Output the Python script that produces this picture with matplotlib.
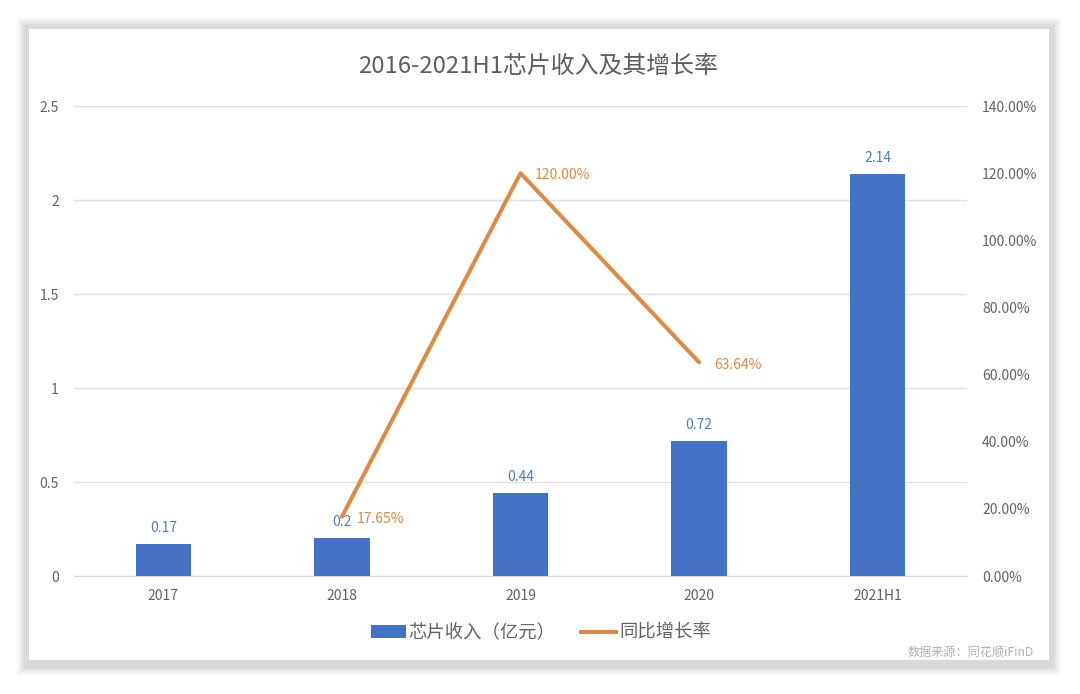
import matplotlib
matplotlib.use("Agg")
import matplotlib.pyplot as plt
from matplotlib.patches import Rectangle
import numpy as np

plt.rcParams['font.family'] = ['Noto Sans CJK SC', 'DejaVu Sans']

title = "2016-2021H1芯片收入及其增长率"
categories = ["2017", "2018", "2019", "2020", "2021H1"]
revenue = [0.17, 0.2, 0.44, 0.72, 2.14]
revenue_labels = ["0.17", "0.2", "0.44", "0.72", "2.14"]
growth_cats = [1, 2, 3]
growth = [17.65, 120.00, 63.64]
growth_labels = ["17.65%", "120.00%", "63.64%"]
left_ticks = [0, 0.5, 1, 1.5, 2, 2.5]
left_ticklabels = ["0", "0.5", "1", "1.5", "2", "2.5"]
right_ticks = [0, 20, 40, 60, 80, 100, 120, 140]
right_ticklabels = ["0.00%", "20.00%", "40.00%", "60.00%", "80.00%", "100.00%", "120.00%", "140.00%"]
legend_bar = "芯片收入（亿元）"
legend_line = "同比增长率"
source = "数据来源：同花顺iFinD"

W, H = 1080, 694
BLUE = "#4472C4"
ORANGE = "#DF8A42"
GREY = "#626262"
fig = plt.figure(figsize=(W / 100, H / 100), dpi=100, facecolor="white")

# page layer in pixel coordinates, top-left origin
bg = fig.add_axes([0, 0, 1, 1], zorder=0)
bg.set_xlim(0, W); bg.set_ylim(H, 0); bg.axis("off")
# soft shadow around the white panel: opaque rings, pale outside, grey near the panel
PADS = 15
for pad in range(PADS, 0, -1):
    t = min(1.0, ((PADS - pad) / 9) ** 1.3)
    lev = 1 - (1 - 0xD9 / 255) * t
    bg.add_patch(Rectangle((29 - pad + 1, 29 - pad + 2), 1020 + 2 * pad - 2, 631 + 2 * pad,
                           fc=(lev, lev, lev), ec="none"))
bg.add_patch(Rectangle((29, 29), 1020, 631, fc="white", ec="none"))

bg.text(538.5, 66, title, ha="center", va="center", fontsize=17.2, color="#5E5E5E")
bg.text(1034, 652, source, ha="right", va="center", fontsize=8.7, color="#B0B0B0")

# plot area
ax = fig.add_axes([74 / W, 1 - 576 / H, 893 / W, 470 / H], zorder=2)
ax.patch.set_alpha(0)
x = np.arange(len(categories))
ax.bar(x, revenue, width=0.31, color=BLUE, zorder=3)
ax.set_xlim(-0.5, 4.5)
ax.set_ylim(0, 2.5)
ax.set_yticks(left_ticks, left_ticklabels)
ax.set_xticks(x, categories)
ax.grid(axis="y", color="#E0E0E0", lw=1, zorder=0)
ax.set_axisbelow(True)
for s in ("top", "left", "right"):
    ax.spines[s].set_visible(False)
ax.spines["bottom"].set_color("#D9D9D9")
ax.tick_params(length=0, labelcolor=GREY, labelsize=10)
ax.tick_params(axis="x", pad=9)
ax.tick_params(axis="y", pad=10.8)
for xi, v, lab in zip(x, revenue, revenue_labels):
    ax.annotate(lab, (xi, v), xytext=(0, 9), textcoords="offset pixels",
                ha="center", va="bottom", fontsize=10, color="#4F7CBE", zorder=6)

ax2 = ax.twinx()
ax2.patch.set_alpha(0)
ax2.set_ylim(0, 140)
ax2.set_yticks(right_ticks, right_ticklabels)
ax2.plot(growth_cats, growth, color=ORANGE, lw=2.9, solid_capstyle="round", zorder=5)
for s in ax2.spines.values():
    s.set_visible(False)
ax2.tick_params(length=0, labelcolor=GREY, labelsize=10, pad=10.8)
offsets = [(15, -2), (14, -2), (15, -3)]
for xi, v, lab, off in zip(growth_cats, growth, growth_labels, offsets):
    ax2.annotate(lab, (xi, v), xytext=off, textcoords="offset pixels",
                 ha="left", va="center", fontsize=10, color=ORANGE)

h1 = Rectangle((0, 0), 1, 1, fc=BLUE, ec="none")
h2 = plt.Line2D([0], [0], color=ORANGE, lw=2.9)
fig.legend([h1, h2], [legend_bar, legend_line], loc="center", ncol=2,
           bbox_to_anchor=(541 / W, 1 - 633 / H), frameon=False,
           fontsize=13.2, labelcolor=GREY, columnspacing=1.4, handlelength=1.9,
           handletextpad=0.15, handleheight=0.7)

fig.savefig("out.png", dpi=100)
